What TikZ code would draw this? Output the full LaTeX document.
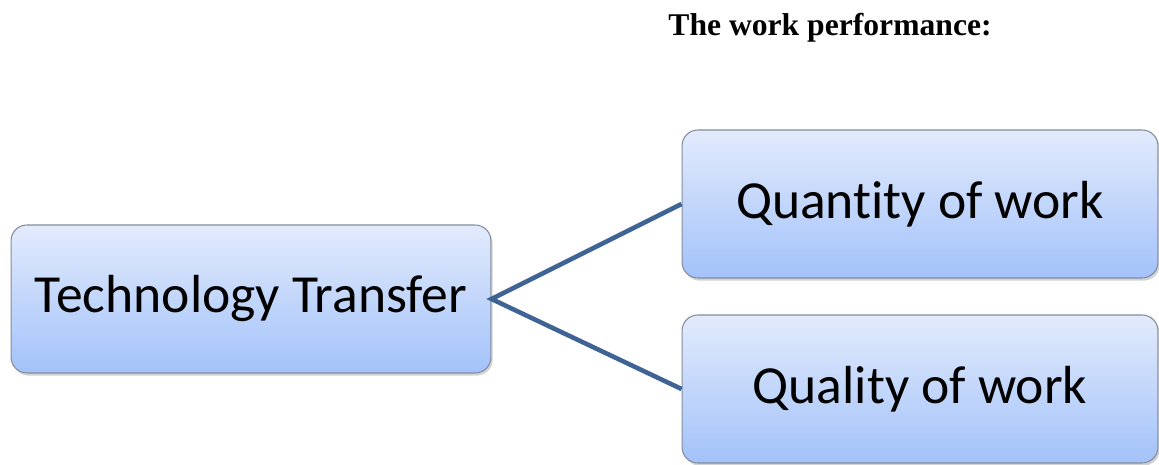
\documentclass[tikz,border=0pt]{standalone}
\usepackage{fontspec}
\setmainfont[Ligatures=NoCommon]{Carlito}
\newfontfamily\titlefont{Liberation Serif}
\usepackage{tikz}
\usetikzlibrary{shadows}
\definecolor{boxtop}{RGB}{226,235,252}
\definecolor{boxbottom}{RGB}{163,194,250}
\definecolor{boxedge}{RGB}{130,140,155}
\definecolor{linkblue}{RGB}{62,99,148}

\tikzset{
  stagebox/.style={draw=boxedge, line width=0.6pt, rounded corners=9pt,
    top color=boxtop, bottom color=boxbottom,
    drop shadow={shadow xshift=1pt, shadow yshift=-1.5pt, opacity=0.35},
    minimum height=2.96cm, font=\fontsize{30.5}{36}\selectfont},
  link/.style={linkblue, line width=2.6pt}
}

\begin{document}
\begin{tikzpicture}[x=0.02cm, y=0.02cm]
    \useasboundingbox (0,0) rectangle (1159,465);

    % heading
    \node[font=\titlefont\bfseries\fontsize{18}{22}\selectfont] (heading) at (830,437)
        {The work performance:};

    % boxes
    \node[stagebox, minimum width=9.6cm]  (transfer) at (251,166) {Technology Transfer};
    \node[stagebox, minimum width=9.52cm] (quantity) at (920,261) {Quant\kern0pt ity of work};
    \node[stagebox, minimum width=9.52cm] (quality)  at (920,76)  {Quality of work};

    % links
    \draw[link] (quantity.west) -- (transfer.east) -- (quality.west);
\end{tikzpicture}
\end{document}
